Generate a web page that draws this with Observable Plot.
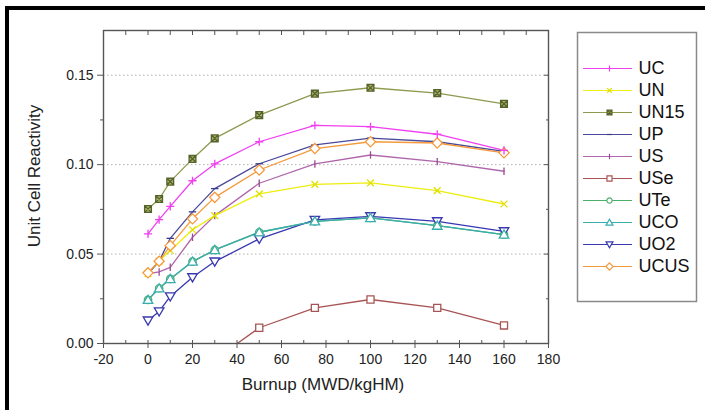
<!DOCTYPE html>
<html>
<head>
<meta charset="utf-8">
<script src="https://cdn.jsdelivr.net/npm/d3@7"></script>
<script src="https://cdn.jsdelivr.net/npm/@observablehq/plot@0.6"></script>
<style>
  html, body { margin: 0; padding: 0; background: #fff; }
  #wrap { position: relative; width: 705px; height: 410px; overflow: hidden; font-family: "Liberation Sans", Arial, sans-serif; }
  #outer { position: absolute; left: 5px; top: 6px; width: 720px; height: 420px; border-top: 4px solid #000; border-left: 4px solid #000; }
  #main { position: absolute; left: 0; top: 0; }
  #legend { position: absolute; left: 577px; top: 32px; }
</style>
</head>
<body>
<div id="wrap"><div id="outer"></div><div id="main"></div><div id="legend"></div></div>
<script>
// ---- data ----
const burnup = [0, 5, 10, 20, 30, 50, 75, 100, 130, 160];
const useBurnup = [30, 50, 75, 100, 130, 160];

const UC   = [0.0613, 0.0693, 0.0767, 0.0910, 0.1004, 0.1128, 0.1220, 0.1212, 0.1170, 0.1080];
const UN   = [0.0390, 0.0460, 0.0520, 0.0636, 0.0715, 0.0836, 0.0890, 0.0898, 0.0855, 0.0780];
const UN15 = [0.0752, 0.0808, 0.0905, 0.1032, 0.1147, 0.1277, 0.1397, 0.1430, 0.1400, 0.1340];
const UP   = [0.0390, 0.0460, 0.0588, 0.0736, 0.0866, 0.1005, 0.1110, 0.1148, 0.1128, 0.1074];
const US   = [0.0390, 0.0400, 0.0426, 0.0594, 0.0715, 0.0896, 0.1004, 0.1054, 0.1017, 0.0963];
const USe  = [-0.0090, 0.0088, 0.0199, 0.0246, 0.0199, 0.0101];
const UTe  = [0.0244, 0.0309, 0.0361, 0.0458, 0.0523, 0.0622, 0.0683, 0.0702, 0.0659, 0.0609];
const UCO  = [0.0244, 0.0309, 0.0361, 0.0458, 0.0523, 0.0622, 0.0683, 0.0702, 0.0659, 0.0609];
const UO2  = [0.0128, 0.0179, 0.0263, 0.0370, 0.0458, 0.0585, 0.0691, 0.0711, 0.0683, 0.0627];
const UCUS = [0.0395, 0.0460, 0.0547, 0.0697, 0.0817, 0.0970, 0.1090, 0.1128, 0.1121, 0.1066];

const seriesNames  = ["UC", "UN", "UN15", "UP", "US", "USe", "UTe", "UCO", "UO2", "UCUS"];
const seriesColors = ["#f040f0", "#eded10", "#8e9a4e", "#4a4a9a", "#b066ac", "#a85454", "#4caf6a", "#3aadad", "#3838b0", "#f59a3c"];

const yMajor = [0, 0.05, 0.10, 0.15];
const yMinor = [0.025, 0.075, 0.125];
const xMajor = [-20, 0, 20, 40, 60, 80, 100, 120, 140, 160, 180];
const xMinor = [-10, 10, 30, 50, 70, 90, 110, 130, 150, 170];

// ---- custom symbols ----
const plusSym = {draw(c, s) { const r = Math.sqrt(s) / 2; c.moveTo(-r, 0); c.lineTo(r, 0); c.moveTo(0, -r); c.lineTo(0, r); }};
const timesSym = {draw(c, s) { const r = Math.sqrt(s) / 2.4; c.moveTo(-r, -r); c.lineTo(r, r); c.moveTo(r, -r); c.lineTo(-r, r); }};
const dashSym = {draw(c, s) { const r = Math.sqrt(s) / 2.2; c.moveTo(-r, 0); c.lineTo(r, 0); }};
const vbarSym = {draw(c, s) { const r = Math.sqrt(s) / 2.2; c.moveTo(0, -r); c.lineTo(0, r); }};
const circleSym = {draw(c, s) { const r = Math.sqrt(s) / 2.2; c.moveTo(r, 0); c.arc(0, 0, r, 0, 2 * Math.PI); }};
const triDownSym = {draw(c, s) { const r = Math.sqrt(s) / 1.7; c.moveTo(-r, -r * 0.75); c.lineTo(r, -r * 0.75); c.lineTo(0, r * 0.95); c.closePath(); }};
const triUpSym = {draw(c, s) { const r = Math.sqrt(s) / 1.7; c.moveTo(-r, r * 0.75); c.lineTo(r, r * 0.75); c.lineTo(0, -r * 0.95); c.closePath(); }};
const boxTimesSym = {draw(c, s) { const r = Math.sqrt(s) / 2.4; c.rect(-r, -r, 2 * r, 2 * r); c.moveTo(-r, -r); c.lineTo(r, r); c.moveTo(r, -r); c.lineTo(-r, r); }};
const diamondSym = {draw(c, s) { const r = Math.sqrt(s) / 1.6; c.moveTo(0, -r); c.lineTo(r, 0); c.lineTo(0, r); c.lineTo(-r, 0); c.closePath(); }};
const squareSym = {draw(c, s) { const r = Math.sqrt(s) / 2.3; c.rect(-r, -r, 2 * r, 2 * r); }};

const seriesValues = [UC, UN, UN15, UP, US, USe, UTe, UCO, UO2, UCUS];
const seriesX = seriesNames.map(n => n === "USe" ? useBurnup : burnup);
const seriesSymbols = [plusSym, timesSym, boxTimesSym, dashSym, vbarSym, squareSym, circleSym, triUpSym, triDownSym, diamondSym];
const seriesFills = ["none", "none", "#a8b46a", "none", "none", "white", "white", "white", "white", "white"];
const seriesStrokes = ["#f040f0", "#e0e000", "#55632a", "#3a3a8a", "#9a4a96", "#a85454", "#4caf6a", "#3aadad", "#3838b0", "#f59a3c"];

const series = seriesNames.map((name, i) => ({
  name,
  color: seriesColors[i],
  stroke: seriesStrokes[i],
  symbol: seriesSymbols[i],
  fill: seriesFills[i],
  data: seriesX[i].map((x, j) => ({x, y: seriesValues[i][j]}))
}));

// draw order: UTe beneath UCO
const drawOrder = ["UTe", "USe", "UO2", "UCO", "US", "UN", "UP", "UCUS", "UC", "UN15"];

const marks = [
  Plot.gridY(yMajor.slice(1), {stroke: "#b0b0b0", strokeOpacity: 1, strokeDasharray: "1.5,2.5"})
];
for (const n of drawOrder) {
  const s = series.find(d => d.name === n);
  marks.push(Plot.line(s.data, {x: "x", y: "y", stroke: s.color, strokeWidth: 1.3, clip: true}));
}
for (const n of drawOrder) {
  const s = series.find(d => d.name === n);
  marks.push(Plot.dot(s.data, {x: "x", y: "y", symbol: s.symbol, stroke: s.stroke, fill: s.fill, r: 4.6, strokeWidth: 1.3, clip: true}));
}
const axisColor = "#555";
marks.push(
  Plot.frame({stroke: axisColor, strokeWidth: 1.4}),
  Plot.axisY({ticks: yMajor, tickFormat: d3.format(".2f"), tickSize: 6, tickPadding: 4, fontSize: 14, label: null, stroke: axisColor, color: "#222"}),
  Plot.axisY({ticks: yMinor, tickSize: 3, tickFormat: () => "", label: null, stroke: axisColor}),
  Plot.axisY({anchor: "right", ticks: yMajor, tickSize: 5, dx: -5, tickFormat: () => "", label: null, stroke: axisColor}),
  Plot.axisY({anchor: "right", ticks: yMinor, tickSize: 3, dx: -3, tickFormat: () => "", label: null, stroke: axisColor}),
  Plot.axisX({ticks: xMajor, tickSize: 5, tickPadding: 6, tickFormat: d => String(d), fontSize: 14, label: null, stroke: axisColor, color: "#222"}),
  Plot.axisX({ticks: xMajor, tickSize: 3, dy: -3, tickFormat: () => "", label: null, stroke: axisColor}),
  Plot.axisX({ticks: xMinor, tickSize: 3, dy: -3, tickFormat: () => "", label: null, stroke: axisColor}),
  Plot.axisX({anchor: "top", ticks: xMajor.concat(xMinor), tickSize: 4, dy: 4, tickFormat: () => "", label: null, stroke: axisColor}),
  Plot.text(["Unit Cell Reactivity"], {frameAnchor: "left", rotate: -90, dx: -69, dy: -11, textAnchor: "middle", lineAnchor: "middle", fontSize: 17, fill: "#222"}),
  Plot.text(["Burnup (MWD/kgHM)"], {frameAnchor: "bottom", dy: 41, dx: -3, textAnchor: "middle", lineAnchor: "middle", fontSize: 17, fill: "#222"})
);

const chart = Plot.plot({
  width: 705, height: 410,
  marginLeft: 103, marginRight: 157, marginTop: 30, marginBottom: 67,
  style: {fontFamily: "'Liberation Sans', Arial, sans-serif", background: "transparent", overflow: "visible"},
  x: {domain: [-20, 180]},
  y: {domain: [0, 0.175]},
  marks
});
document.getElementById("main").appendChild(chart);

// ---- legend ----
const legendMarks = [Plot.frame({stroke: "#8a8a8a", strokeWidth: 1.5})];
for (const s of series) {
  legendMarks.push(
    Plot.ruleY([s.name], {y: d => d, stroke: s.color, strokeWidth: 1.2, insetLeft: 6, insetRight: 64}),
    Plot.dot([s.name], {y: d => d, frameAnchor: "left", dx: 32, symbol: s.symbol, stroke: s.stroke, fill: s.fill, r: 3.3, strokeWidth: 1.2}),
    Plot.text([s.name], {y: d => d, text: d => d, frameAnchor: "left", dx: 61, textAnchor: "start", lineAnchor: "middle", fontSize: 18, fill: "#111"})
  );
}
const legend = Plot.plot({
  width: 119, height: 269,
  margin: 0,
  style: {fontFamily: "'Liberation Sans', Arial, sans-serif", background: "white", overflow: "visible"},
  y: {type: "point", domain: seriesNames, range: [23, 246], axis: null},
  marks: legendMarks
});
document.getElementById("legend").appendChild(legend);
</script>
</body>
</html>
